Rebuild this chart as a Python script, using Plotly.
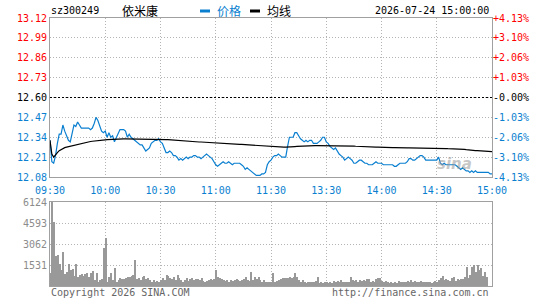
import plotly.graph_objects as go

# ---------------- data ----------------
code = "sz300249"
name = "依米康"
timestamp = "2026-07-24 15:00:00"
prev_close = 12.60

time_ticks = [0, 30, 60, 90, 120, 150, 180, 210, 240]
time_labels = ["09:30", "10:00", "10:30", "11:00", "11:30", "13:30", "14:00", "14:30", "15:00"]

price_ticks = [13.12, 12.99, 12.86, 12.73, 12.60, 12.47, 12.34, 12.21, 12.08]
price_labels = ["13.12", "12.99", "12.86", "12.73", "12.60", "12.47", "12.34", "12.21", "12.08"]
pct_labels = ["+4.13%", "+3.10%", "+2.06%", "+1.03%", "-0.00%", "-1.03%", "-2.06%", "-3.10%", "-4.13%"]
label_side = ["up", "up", "up", "up", "flat", "down", "down", "down", "down"]

vol_ticks = [1531, 3062, 4593, 6124]
vol_labels = ["1531", "3062", "4593", "6124"]

price = [
    12.32, 12.18, 12.17, 12.22, 12.30, 12.36, 12.36, 12.42, 12.38, 12.35,
    12.32, 12.31, 12.37, 12.42, 12.41, 12.44, 12.42, 12.40, 12.40, 12.40,
    12.40, 12.40, 12.39, 12.40, 12.43, 12.47, 12.45, 12.42, 12.38, 12.37,
    12.38, 12.34, 12.37, 12.34, 12.35, 12.31, 12.34, 12.36, 12.39, 12.39,
    12.39, 12.38, 12.34, 12.36, 12.34, 12.33, 12.32, 12.31, 12.30, 12.29,
    12.29, 12.27, 12.25, 12.26, 12.27, 12.30, 12.31, 12.32, 12.32, 12.33,
    12.31, 12.30, 12.27, 12.24, 12.24, 12.25, 12.24, 12.22, 12.22, 12.21,
    12.19, 12.20, 12.19, 12.20, 12.21, 12.20, 12.21, 12.21, 12.22, 12.22,
    12.21, 12.21, 12.20, 12.21, 12.22, 12.23, 12.22, 12.21, 12.20, 12.18,
    12.16, 12.15, 12.16, 12.17, 12.18, 12.17, 12.17, 12.18, 12.17, 12.16,
    12.17, 12.17, 12.17, 12.17, 12.16, 12.15, 12.13, 12.14, 12.13, 12.12,
    12.11, 12.10, 12.09, 12.09, 12.09, 12.10, 12.10, 12.11, 12.16, 12.18,
    12.19, 12.21, 12.22, 12.22, 12.23, 12.22, 12.21, 12.21, 12.21, 12.28,
    12.34, 12.34, 12.34, 12.37, 12.37, 12.35, 12.33, 12.32, 12.31, 12.32,
    12.31, 12.32, 12.32, 12.30, 12.30, 12.30, 12.31, 12.32, 12.34, 12.34,
    12.31, 12.30, 12.28, 12.27, 12.26, 12.27, 12.25, 12.23, 12.22, 12.21,
    12.19, 12.20, 12.21, 12.20, 12.19, 12.17, 12.17, 12.18, 12.19, 12.19,
    12.18, 12.17, 12.17, 12.16, 12.16, 12.16, 12.17, 12.18, 12.17, 12.17,
    12.17, 12.16, 12.16, 12.16, 12.16, 12.16, 12.16, 12.15, 12.15, 12.16,
    12.17, 12.17, 12.17, 12.17, 12.18, 12.20, 12.20, 12.19, 12.19, 12.20,
    12.21, 12.22, 12.22, 12.21, 12.19, 12.19, 12.19, 12.19, 12.19, 12.19,
    12.19, 12.21, 12.17, 12.16, 12.17, 12.16, 12.16, 12.16, 12.16, 12.16,
    12.16, 12.15, 12.14, 12.13, 12.14, 12.13, 12.12, 12.12, 12.11, 12.12,
    12.11, 12.12, 12.11, 12.11, 12.11, 12.11, 12.11, 12.11, 12.11, 12.10,
    12.10,
]

avg_price = [
    12.320, 12.230, 12.210, 12.228, 12.240, 12.252, 12.260, 12.268, 12.272, 12.275,
    12.278, 12.280, 12.284, 12.288, 12.291, 12.296, 12.298, 12.301, 12.304, 12.306,
    12.308, 12.310, 12.312, 12.314, 12.316, 12.318, 12.319, 12.320, 12.321, 12.322,
    12.323, 12.324, 12.325, 12.325, 12.326, 12.326,
    12.327, 12.327, 12.328, 12.328, 12.329, 12.329, 12.329, 12.329, 12.329, 12.329, 12.329, 12.329,
    12.329, 12.329, 12.328, 12.328, 12.328, 12.327, 12.327, 12.327, 12.327, 12.327,
    12.327, 12.327, 12.327, 12.326, 12.326, 12.325, 12.324, 12.323, 12.322,
    12.318, 12.317, 12.316, 12.315, 12.314, 12.314, 12.313, 12.313, 12.312, 12.312,
    12.311, 12.311, 12.310, 12.310, 12.309, 12.309, 12.308, 12.307, 12.306, 12.305,
    12.304, 12.303, 12.302, 12.301, 12.300, 12.299, 12.298, 12.298, 12.297,
    12.297, 12.296, 12.296, 12.295, 12.295, 12.294, 12.294, 12.293, 12.293, 12.292, 12.291,
    12.290, 12.289, 12.288, 12.287, 12.286, 12.285,
    12.284, 12.283, 12.282, 12.281, 12.280, 12.279, 12.279, 12.278, 12.278,
    12.277, 12.277, 12.276, 12.276, 12.276, 12.275, 12.275, 12.275, 12.276, 12.277, 12.278,
    12.279, 12.280, 12.281, 12.282, 12.282, 12.283, 12.283, 12.284, 12.284, 12.284, 12.285,
    12.285, 12.285, 12.285, 12.286, 12.286, 12.286, 12.286, 12.286, 12.286, 12.286,
    12.286, 12.286, 12.286, 12.285, 12.285, 12.285, 12.284, 12.284, 12.283, 12.283,
    12.282, 12.282, 12.281, 12.280, 12.280, 12.279, 12.278,
    12.277, 12.277, 12.276, 12.276, 12.276, 12.275, 12.275, 12.275, 12.274, 12.274,
    12.274, 12.273, 12.273, 12.273, 12.272, 12.272, 12.272, 12.271, 12.271, 12.271,
    12.270, 12.270, 12.270, 12.270, 12.270,
    12.270, 12.269, 12.269, 12.269, 12.269, 12.268, 12.268, 12.268, 12.268, 12.268,
    12.268, 12.267, 12.267, 12.267, 12.267, 12.267, 12.266, 12.266, 12.266, 12.266,
    12.265, 12.265, 12.265, 12.264, 12.264, 12.263, 12.263, 12.262, 12.262, 12.261,
    12.259, 12.257, 12.256, 12.255, 12.254, 12.253, 12.252, 12.251, 12.250, 12.249,
    12.248, 12.247, 12.247, 12.246, 12.246,
]

volume = [
    923, 6124, 4690, 2187, 2260, 1580, 1166, 2478, 875, 1045,
    1600, 1140, 1215, 700, 1600, 680, 800, 850, 730, 850,
    970, 680, 970, 1120, 440, 920, 320, 440, 535, 2750,
    3475, 320, 680, 920, 440, 1290, 320, 437, 560, 510,
    486, 560, 630, 630, 730, 800, 1895, 486, 560, 437,
    680, 730, 486, 560, 437, 292, 437, 316, 364, 316,
    437, 560, 437, 800, 730, 560, 486, 630, 437, 800,
    560, 437, 316, 437, 560, 390, 486, 560, 437, 486,
    510, 437, 560, 390, 316, 364, 437, 486, 437, 510,
    1166, 680, 560, 486, 437, 390, 437, 316, 437, 364,
    437, 486, 437, 390, 437, 486, 680, 437, 364, 1045,
    437, 680, 510, 630, 437, 316, 437, 267, 290, 316,
    316, 923, 316, 364, 437, 486, 560, 560, 560, 607,
    680, 560, 630, 923, 680, 437, 316, 437, 316, 243,
    316, 316, 267, 316, 364, 630, 243, 316, 243, 267,
    316, 243, 316, 243, 364, 290, 364, 316, 437, 267,
    316, 267, 316, 630, 437, 364, 437, 316, 437, 364,
    437, 364, 486, 510, 290, 364, 267, 486, 560, 560,
    390, 290, 364, 267, 243, 267, 243, 316, 243, 364,
    267, 316, 290, 316, 390, 316, 437, 267, 364, 316,
    316, 390, 316, 267, 290, 316, 316, 243, 267, 364,
    316, 437, 560, 730, 437, 535, 437, 364, 607, 680,
    390, 510, 437, 486, 486, 680, 1360, 607, 800, 1360,
    1530, 1045, 1530, 1166, 1290, 730, 1045, 630, 0, 0,
    0,
]

assert len(price) == len(avg_price) == len(volume) == 241
minutes = list(range(len(price)))

# ---------------- style ----------------
W, H = 545, 300
BLUE = "#0a7fd0"
RED = "#ff0000"
GRAY = "#8c8c8c"
FRAME = "#a0a0a0"
GRID = "#b4b4b4"
MONO = "DejaVu Sans Mono"
CJK = "Noto Sans CJK SC"
side_color = {"up": RED, "flat": "#000000", "down": BLUE}

def px_x(x):
    return x / W

def px_y(y):
    return 1 - y / H

xdom = [px_x(50), px_x(492)]
price_dom = [px_y(177), px_y(18)]
vol_dom = [px_y(286), px_y(202)]

left_text = [f"<span style='color:{side_color[s]}'>{t}</span>" for t, s in zip(price_labels, label_side)]
right_text = [f"<span style='color:{side_color[s]}'>{t}</span>" for t, s in zip(pct_labels, label_side)]

fig = go.Figure()
fig.add_trace(go.Bar(
    x=minutes, y=volume, xaxis="x2", yaxis="y3",
    marker=dict(color="#999999", line=dict(width=0)),
    width=0.55, offset=0, hoverinfo="skip",
))
fig.add_trace(go.Scatter(
    x=minutes, y=price, xaxis="x", yaxis="y", mode="lines",
    line=dict(color=BLUE, width=1.2), name="价格",
))
fig.add_trace(go.Scatter(
    x=minutes, y=avg_price, xaxis="x", yaxis="y2", mode="lines",
    line=dict(color="#000000", width=1.2), name="均线",
))

grid_common = dict(showgrid=True, gridcolor=GRID, griddash="1px,2px", gridwidth=1,
                   zeroline=False, showline=True, mirror=True, linecolor=FRAME, linewidth=1,
                   ticks="", fixedrange=True, automargin=False)

fig.update_layout(
    template="none",
    width=W, height=H,
    margin=dict(l=0, r=0, t=0, b=0, pad=0),
    paper_bgcolor="white", plot_bgcolor="white",
    showlegend=False,
    bargap=0,
    xaxis=dict(domain=xdom, anchor="y", range=[0, 240], tickvals=time_ticks, ticktext=time_labels,
               tickfont=dict(family=MONO, size=10, color=BLUE), ticklabelstandoff=4, **grid_common),
    yaxis=dict(domain=price_dom, anchor="x", range=[12.08, 13.12], tickvals=price_ticks, ticktext=left_text,
               tickfont=dict(family=MONO, size=10), **grid_common),
    yaxis2=dict(overlaying="y", anchor="x", side="right", range=[12.08, 13.12], tickvals=price_ticks,
                ticktext=right_text, tickfont=dict(family=MONO, size=10), showgrid=False,
                zeroline=False, showline=False, ticks="", fixedrange=True, automargin=False),
    xaxis2=dict(domain=xdom, anchor="y3", range=[0, 240], tickvals=time_ticks, showticklabels=False,
                **grid_common),
    yaxis3=dict(domain=vol_dom, anchor="x2", range=[0, 6124], tickvals=vol_ticks, ticktext=vol_labels,
                tickfont=dict(family=MONO, size=10, color=GRAY), **grid_common),
)

# previous-close reference line
fig.add_shape(type="line", xref="x domain", yref="y", x0=0, x1=1, y0=prev_close, y1=prev_close,
              line=dict(color="#000000", width=1, dash="2px,2px"))

# legend swatches
fig.add_shape(type="line", xref="paper", yref="paper", x0=px_x(200), x1=px_x(210), y0=px_y(11), y1=px_y(11),
              line=dict(color=BLUE, width=3))
fig.add_shape(type="line", xref="paper", yref="paper", x0=px_x(250), x1=px_x(260), y0=px_y(11), y1=px_y(11),
              line=dict(color="#000000", width=3))

def note(text, x, y, anchor, font, color, size):
    fig.add_annotation(text=text, x=px_x(x), y=px_y(y), xref="paper", yref="paper",
                       xanchor=anchor, yanchor="middle", showarrow=False,
                       font=dict(family=font, size=size, color=color))

note(code, 49, 11, "left", MONO, "#000000", 10)
note(name, 120, 11, "left", CJK, "#000000", 12)
note("价格", 215, 11, "left", CJK, BLUE, 12)
note("均线", 265, 11, "left", CJK, "#000000", 12)
note(timestamp, 491, 11, "right", MONO, "#000000", 10)
note("Copyright 2026 SINA.COM", 49, 292, "left", MONO, "#666666", 10)
note("http://finance.sina.com.cn", 491, 292, "right", MONO, "#666666", 10)
# faint watermark
fig.add_annotation(text="<b><i>sina</i></b>", x=px_x(474), y=px_y(164), xref="paper", yref="paper",
                   showarrow=False, font=dict(family="DejaVu Sans", size=15, color="rgba(150,150,150,0.55)"))

fig.write_html("out.html")
